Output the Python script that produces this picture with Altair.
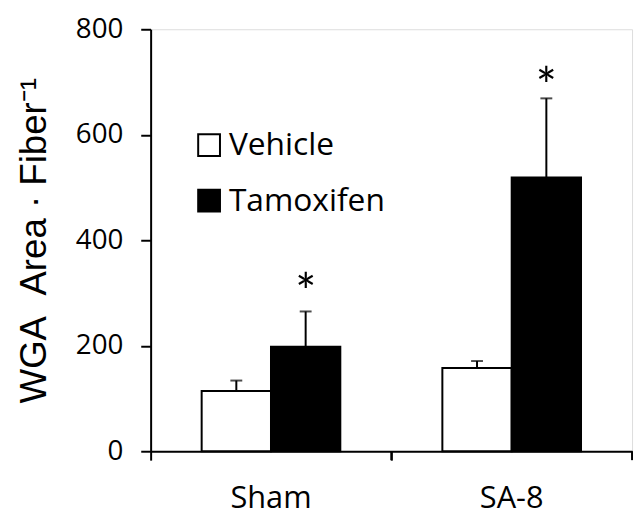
import altair as alt
import pandas as pd

categories = ["Sham", "SA-8"]
groups = ["Vehicle", "Tamoxifen"]
vehicle_mean = [114, 158]
tamoxifen_mean = [198, 519]
vehicle_err = [134, 171]
tamoxifen_err = [265, 669]
tamoxifen_star_y = [325, 714]
y_ticks = [0, 200, 400, 600, 800]

rows = []
for i, c in enumerate(categories):
    rows.append({"cat": c, "group": "Vehicle", "mean": vehicle_mean[i], "err": vehicle_err[i],
                 "star": "", "star_y": vehicle_err[i]})
    rows.append({"cat": c, "group": "Tamoxifen", "mean": tamoxifen_mean[i], "err": tamoxifen_err[i],
                 "star": "*", "star_y": tamoxifen_star_y[i]})
df = pd.DataFrame(rows)
cat_df = pd.DataFrame({"cat": categories})

FONT = "Open Sans"
TITLE_FONT = "Liberation Sans"
W, H = 486, 426

x_enc = alt.X("cat:N", sort=categories,
              scale=alt.Scale(paddingInner=0, paddingOuter=0),
              axis=alt.Axis(title=None, bandPosition=0, labelAngle=0,
                            tickSize=9, tickWidth=2, tickColor="black",
                            domainColor="black", domainWidth=2,
                            labelFontSize=31, labelPadding=24, labelColor="black", labelFont=FONT))
xo_enc = alt.XOffset("group:N", sort=groups,
                     scale=alt.Scale(paddingInner=0, paddingOuter=0.736))

bars = alt.Chart(df).mark_bar(stroke="black", strokeWidth=2).encode(
    x=x_enc,
    xOffset=xo_enc,
    y=alt.Y("mean:Q", scale=alt.Scale(domain=[0, 800]),
            axis=alt.Axis(values=y_ticks, title="WGA\u00a0\u00a0Area · Fiber⁻¹", grid=False,
                          tickSize=10, tickWidth=2, tickColor="black",
                          domainColor="black", domainWidth=2,
                          labelFontSize=28, labelPadding=18, labelColor="black", labelFont=FONT,
                          titleFontSize=37, titleFont=TITLE_FONT, titleFontWeight="normal",
                          titleColor="black", titlePadding=22)),
    fill=alt.Fill("group:N", sort=groups,
                  scale=alt.Scale(domain=groups, range=["white", "black"]),
                  legend=alt.Legend(title=None, orient="none", legendX=43, legendY=101,
                                    symbolType="square", symbolSize=484,
                                    symbolStrokeColor="black", symbolStrokeWidth=2,
                                    labelFontSize=32, labelFont=FONT, labelColor="black",
                                    labelOffset=4, rowPadding=24, padding=0)),
)

err_line = alt.Chart(df).mark_rule(color="black", strokeWidth=2).encode(
    x=alt.X("cat:N", sort=categories), xOffset=xo_enc,
    y="mean:Q", y2="err:Q")

err_cap = alt.Chart(df).mark_tick(color="black", thickness=2, size=12).encode(
    x=alt.X("cat:N", sort=categories), xOffset=xo_enc, y="err:Q")

stars = alt.Chart(df).mark_text(fontSize=50, font="Lato", baseline="middle", dy=15,
                                color="black").encode(
    x=alt.X("cat:N", sort=categories), xOffset=xo_enc,
    y="star_y:Q", text="star:N")

end_tick = alt.Chart(cat_df).mark_rule(color="black", strokeWidth=2).encode(
    x=alt.X("cat:N", sort=categories, bandPosition=1),
    y=alt.value(H), y2=alt.value(H + 9))

chart = alt.layer(bars, err_line, err_cap, stars, end_tick).properties(
    width=W, height=H,
    autosize=alt.AutoSizeParams(type="none"),
    padding={"left": 144, "top": 19, "right": 4, "bottom": 72},
).configure_view(strokeWidth=0).configure(font=FONT)

chart.save("out.html", embed_options={"renderer": "svg", "actions": False})
